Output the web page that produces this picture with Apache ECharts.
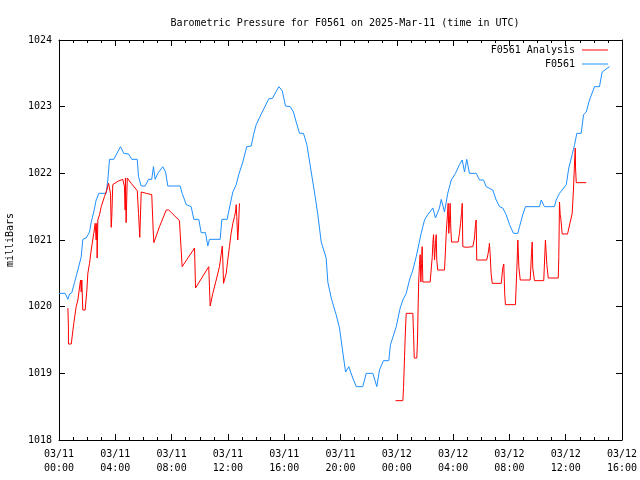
<!DOCTYPE html>
<html>
<head>
<meta charset="utf-8">
<script src="https://cdn.jsdelivr.net/npm/echarts@6/dist/echarts.min.js"></script>
<style>html,body{margin:0;padding:0;background:#fff}#c{width:640px;height:480px}</style>
</head>
<body>
<div id="c"></div>
<script>
// Hours since 2025-03-11 00:00 UTC, pressure in millibars
const stationName = 'F0561';
const xTickLabels = ['03/11\n00:00','03/11\n04:00','03/11\n08:00','03/11\n12:00','03/11\n16:00','03/11\n20:00','03/12\n00:00','03/12\n04:00','03/12\n08:00','03/12\n12:00','03/12\n16:00'];
const yTicks = [1018,1019,1020,1021,1022,1023,1024];

const stationHours = [0,0.44,0.63,0.75,0.91,1.10,1.34,1.58,1.69,1.93,2.17,2.29,2.47,2.64,2.83,3.35,3.47,3.59,3.89,4.37,4.60,4.94,5.17,5.56,5.65,5.84,6.12,6.36,6.59,6.71,6.83,7.02,7.37,7.57,7.73,8.61,8.75,9.04,9.39,9.58,9.93,10.10,10.41,10.57,10.69,11.45,11.57,11.95,12.11,12.35,12.59,12.77,13.06,13.34,13.66,13.82,14.01,14.37,14.91,15.15,15.62,15.86,16.09,16.43,16.66,16.85,17.09,17.37,17.61,17.92,18.15,18.39,18.63,18.98,19.10,19.34,19.69,19.93,20.16,20.36,20.59,20.87,21.12,21.58,21.83,22.30,22.58,22.77,23.05,23.43,23.55,23.96,24.24,24.43,24.67,24.90,25.14,25.38,25.73,25.97,26.20,26.56,26.75,27.03,27.16,27.39,27.62,27.87,28.17,28.45,28.65,28.81,28.97,29.16,29.64,29.88,30.16,30.35,30.82,31.06,31.30,31.53,31.77,32.01,32.29,32.60,32.72,32.95,33.14,34.14,34.26,34.49,35.20,35.32,35.56,36.04,36.22,36.46,36.63,36.79,37.10,37.27,37.46,37.69,38.05,38.40,38.59,39.11];
const stationPressure = [1020.20,1020.20,1020.11,1020.19,1020.21,1020.36,1020.55,1020.75,1021.01,1021.03,1021.12,1021.27,1021.42,1021.60,1021.70,1021.70,1021.90,1022.21,1022.21,1022.40,1022.30,1022.29,1022.21,1022.21,1021.95,1021.81,1021.81,1021.91,1021.91,1022.10,1021.91,1022.00,1022.10,1022.02,1021.81,1021.81,1021.70,1021.53,1021.50,1021.31,1021.31,1021.11,1021.11,1020.91,1021.01,1021.01,1021.31,1021.31,1021.48,1021.72,1021.83,1021.98,1022.17,1022.40,1022.41,1022.58,1022.73,1022.89,1023.12,1023.12,1023.30,1023.24,1023.01,1023.00,1022.92,1022.77,1022.60,1022.60,1022.43,1022.02,1021.72,1021.38,1020.97,1020.73,1020.37,1020.13,1019.88,1019.68,1019.32,1019.02,1019.10,1018.93,1018.80,1018.80,1019.00,1019.00,1018.80,1019.05,1019.19,1019.19,1019.43,1019.70,1019.98,1020.10,1020.20,1020.40,1020.55,1020.75,1021.10,1021.30,1021.38,1021.48,1021.33,1021.48,1021.61,1021.42,1021.70,1021.90,1022.00,1022.13,1022.20,1022.02,1022.21,1022.00,1022.00,1021.90,1021.90,1021.80,1021.75,1021.60,1021.50,1021.48,1021.38,1021.23,1021.10,1021.10,1021.20,1021.38,1021.50,1021.50,1021.60,1021.50,1021.50,1021.60,1021.70,1021.83,1022.08,1022.28,1022.43,1022.60,1022.60,1022.88,1022.92,1023.10,1023.30,1023.30,1023.52,1023.60];

const analysisHoursA = [0.63,0.67,0.67,0.87,1.05,1.22,1.34,1.53,1.58,1.62,1.69,1.86,1.98,2.05,2.17,2.29,2.47,2.57,2.64,2.69,2.71,2.76,2.88,3.00,3.23,3.40,3.52,3.66,3.71,3.75,3.82,4.18,4.53,4.65,4.70,4.72,4.77,4.85,5.13,5.56,5.65,5.74,5.84,6.20,6.59,6.69,6.74,7.14,7.62,7.80,8.56,8.61,8.75,9.63,9.70,9.79,10.64,10.69,10.74,10.81,10.93,11.17,11.40,11.52,11.60,11.64,11.69,11.78,11.88,11.99,12.11,12.23,12.35,12.47,12.54,12.59,12.63,12.70,12.75,12.82,12.87];
const analysisPressureA = [1019.98,1019.70,1019.44,1019.44,1019.75,1020.00,1020.10,1020.40,1020.22,1020.40,1019.95,1019.95,1020.25,1020.50,1020.65,1020.85,1021.10,1021.25,1021.00,1021.25,1020.73,1021.30,1021.38,1021.50,1021.65,1021.75,1021.85,1021.70,1021.19,1021.35,1021.83,1021.88,1021.91,1021.80,1021.45,1021.93,1021.26,1021.93,1021.85,1021.74,1021.40,1021.04,1021.72,1021.70,1021.68,1021.15,1020.96,1021.20,1021.45,1021.45,1021.29,1021.10,1020.60,1020.88,1020.28,1020.28,1020.60,1020.30,1020.01,1020.01,1020.20,1020.40,1020.60,1020.78,1020.91,1020.70,1020.35,1020.35,1020.50,1020.70,1020.90,1021.10,1021.25,1021.35,1021.42,1021.53,1021.35,1021.00,1021.18,1021.55,1021.55];

const analysisHoursB = [23.91,24.43,24.48,24.55,24.62,24.67,25.14,25.19,25.24,25.42,25.47,25.52,25.56,25.61,25.66,25.71,25.76,25.80,25.85,26.37,26.44,26.52,26.56,26.61,26.68,26.75,26.80,26.84,26.91,27.39,27.46,27.51,27.55,27.60,27.65,27.69,27.74,27.79,27.84,27.89,28.36,28.45,28.53,28.60,28.65,28.69,28.93,29.40,29.52,29.59,29.64,29.68,30.39,30.49,30.56,30.58,30.63,30.70,30.78,31.42,31.53,31.60,31.67,31.72,32.43,32.53,32.60,32.67,32.77,33.48,33.57,33.62,33.66,33.78,34.44,34.56,34.66,34.76,35.47,35.51,35.56,35.61,35.65,35.75,36.13,36.27,36.46,36.55,36.63,36.68,36.70,36.75,37.46];
const analysisPressureB = [1018.59,1018.59,1018.79,1019.25,1019.68,1019.90,1019.90,1019.58,1019.23,1019.23,1019.50,1020.05,1020.40,1020.63,1020.78,1020.37,1020.65,1020.90,1020.37,1020.37,1020.55,1020.75,1020.95,1021.08,1020.70,1020.95,1021.08,1020.70,1020.55,1020.55,1020.85,1021.10,1021.23,1021.38,1021.55,1021.10,1021.25,1021.55,1021.15,1020.97,1020.97,1021.10,1021.25,1021.40,1021.55,1020.90,1020.89,1020.90,1021.03,1021.23,1021.30,1020.70,1020.70,1020.80,1020.90,1020.95,1020.80,1020.50,1020.35,1020.35,1020.58,1020.64,1020.18,1020.03,1020.03,1020.58,1021.00,1020.60,1020.40,1020.40,1020.80,1020.97,1020.58,1020.39,1020.39,1021.00,1020.63,1020.43,1020.43,1020.75,1021.57,1021.38,1021.33,1021.09,1021.09,1021.12,1021.40,1021.75,1022.17,1022.38,1022.08,1021.86,1021.86];

const zip = (xs, ys) => xs.map((x, i) => [x, ys[i]]);
const font = 'DejaVu Sans Mono';
const RED = '#ff0000', BLUE = '#1e90ff';

const chart = echarts.init(document.getElementById('c'), null, {renderer: 'canvas'});
const axisBase = {
  axisLine: {show: true, onZero: false, lineStyle: {color: '#000', width: 1}},
  axisTick: {show: true, inside: true, length: 6, lineStyle: {color: '#000'}},
  splitLine: {show: false}
};
chart.setOption({
  animation: false,
  backgroundColor: '#fff',
  title: {
    text: 'Barometric Pressure for ' + stationName + ' on 2025-Mar-11 (time in UTC)',
    left: 340, top: 13, textAlign: 'center',
    textStyle: {fontFamily: font, fontSize: 10, fontWeight: 'normal', color: '#000'}
  },
  legend: {
    orient: 'vertical', right: 27, top: 40, align: 'right',
    itemWidth: 26, itemHeight: 10, itemGap: 4,
    textStyle: {fontFamily: font, fontSize: 10, color: '#000', padding: [0, 2, 0, 0]},
    data: [
      {name: stationName + ' Analysis', icon: 'path://M0,5 L26,5 L26,6 L0,6 Z'},
      {name: stationName, icon: 'path://M0,5 L26,5 L26,6 L0,6 Z'}
    ]
  },
  grid: {left: 59, right: 18, top: 40, bottom: 40, containLabel: false, outerBoundsMode: 'none'},
  xAxis: [
    Object.assign({}, axisBase, {
      type: 'value', position: 'bottom', min: 0, max: 40, interval: 4,
      minorTick: {show: true, splitNumber: 4, length: 3, lineStyle: {color: '#000'}},
      axisLabel: {fontFamily: font, fontSize: 10, color: '#000', lineHeight: 14, margin: 7,
        formatter: v => xTickLabels[Math.round(v / 4)]}
    }),
    Object.assign({}, axisBase, {
      type: 'value', position: 'top', min: 0, max: 40, interval: 4,
      minorTick: {show: true, splitNumber: 4, length: 3, lineStyle: {color: '#000'}},
      axisLabel: {show: false}
    })
  ],
  yAxis: [
    Object.assign({}, axisBase, {
      type: 'value', position: 'left', min: yTicks[0], max: yTicks[yTicks.length - 1], interval: 1,
      name: 'milliBars', nameLocation: 'middle', nameGap: 44, nameRotate: 90,
      nameTextStyle: {fontFamily: font, fontSize: 10, color: '#000'},
      axisLabel: {fontFamily: font, fontSize: 10, color: '#000', margin: 7, formatter: v => String(v)}
    }),
    Object.assign({}, axisBase, {
      type: 'value', position: 'right', min: yTicks[0], max: yTicks[yTicks.length - 1], interval: 1,
      axisLabel: {show: false}
    })
  ],
  series: [
    {name: stationName + ' Analysis', type: 'line', data: zip(analysisHoursA, analysisPressureA),
     showSymbol: false, symbol: 'none', color: RED, lineStyle: {color: RED, width: 1}, z: 3},
    {name: stationName + ' Analysis', type: 'line', data: zip(analysisHoursB, analysisPressureB),
     showSymbol: false, symbol: 'none', color: RED, lineStyle: {color: RED, width: 1}, z: 3},
    {name: stationName, type: 'line', data: zip(stationHours, stationPressure),
     showSymbol: false, symbol: 'none', color: BLUE, lineStyle: {color: BLUE, width: 1}, z: 2}
  ]
});
</script>
</body>
</html>
